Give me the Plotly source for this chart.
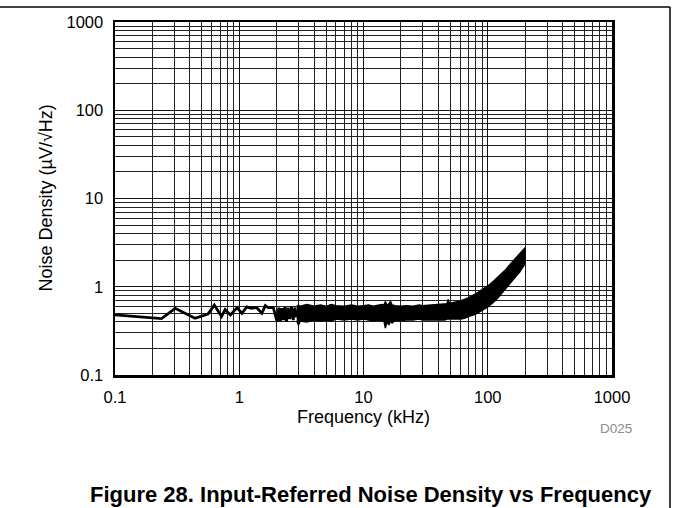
import plotly.graph_objects as go

# ---- data (frequency in kHz, noise density in uV/rtHz) ----
line_freq = [0.1, 0.15, 0.237, 0.305, 0.44, 0.56, 0.63, 0.72, 0.77, 0.85, 0.96,
             1.05, 1.15, 1.25, 1.38, 1.52, 1.62, 1.71, 1.88, 2.02, 2.08, 2.14,
             2.2, 2.26, 2.33, 2.4, 2.47, 2.55, 2.63, 2.72, 2.8, 2.9]
line_noise = [0.48, 0.455, 0.436, 0.57, 0.44, 0.49, 0.62, 0.46, 0.55, 0.48, 0.58,
              0.50, 0.59, 0.57, 0.58, 0.50, 0.61, 0.58, 0.58, 0.40, 0.58, 0.41,
              0.57, 0.42, 0.59, 0.40, 0.58, 0.43, 0.60, 0.42, 0.58, 0.45]

band_freq = [2.9, 3.0, 3.1, 3.5, 4.0, 4.5, 5.0, 5.5, 6.0, 7.0, 8.0, 9.0, 10, 11,
             12, 13, 14, 14.6, 15.0, 15.4, 16.0, 16.5, 17.0, 18, 20, 22, 25, 28,
             30, 35, 40, 45, 47, 48, 49, 52, 55, 60, 65, 70, 80, 90, 100, 110,
             120, 130, 140, 150, 160, 170, 180, 190, 200]
band_hi = [0.60, 0.62, 0.60, 0.63, 0.60, 0.62, 0.60, 0.63, 0.61, 0.60, 0.62, 0.60,
           0.61, 0.62, 0.60, 0.62, 0.63, 0.62, 0.68, 0.62, 0.64, 0.68, 0.62, 0.61,
           0.60, 0.61, 0.60, 0.62, 0.61, 0.62, 0.63, 0.64, 0.64, 0.72, 0.65, 0.66,
           0.67, 0.69, 0.72, 0.75, 0.83, 0.92, 1.02, 1.14, 1.27, 1.42, 1.57, 1.77,
           1.97, 2.17, 2.37, 2.57, 2.77]
band_lo = [0.41, 0.37, 0.41, 0.40, 0.42, 0.41, 0.42, 0.41, 0.43, 0.42, 0.43, 0.42,
           0.43, 0.42, 0.41, 0.42, 0.41, 0.41, 0.34, 0.40, 0.37, 0.41, 0.39, 0.42,
           0.41, 0.42, 0.42, 0.43, 0.42, 0.42, 0.42, 0.42, 0.43, 0.43, 0.43, 0.43,
           0.43, 0.43, 0.44, 0.46, 0.49, 0.54, 0.59, 0.66, 0.74, 0.83, 0.94, 1.06,
           1.20, 1.33, 1.46, 1.63, 1.83]

x_tick_vals = [0.1, 1, 10, 100, 1000]
x_tick_text = ["0.1", "1", "10", "100", "1000"]
y_tick_vals = [0.1, 1, 10, 100, 1000]
y_tick_text = ["0.1", "1", "10", "100", "1000"]

FONT = "Arial, 'Liberation Sans', sans-serif"

fig = go.Figure()

fig.add_trace(go.Scatter(
    x=line_freq, y=line_noise, mode="lines",
    line=dict(color="black", width=2.8), hoverinfo="skip", showlegend=False))

fig.add_trace(go.Scatter(
    x=band_freq + band_freq[::-1], y=band_hi + band_lo[::-1],
    mode="lines", fill="toself", fillcolor="black",
    line=dict(color="black", width=1.5), hoverinfo="skip", showlegend=False))

axis_common = dict(
    type="log", range=[-1, 3], automargin=False,
    showgrid=True, gridcolor="#111", gridwidth=1,
    minor=dict(dtick="D1", showgrid=True, gridcolor="#222", gridwidth=1, ticks=""),
    showline=True, linecolor="black", linewidth=2.5, mirror=True,
    ticks="", zeroline=False,
    tickfont=dict(family=FONT, size=16.5, color="black"),
)

fig.update_xaxes(**axis_common, tickvals=x_tick_vals, ticktext=x_tick_text,
                 ticklabelstandoff=6)
fig.update_yaxes(**axis_common, tickvals=y_tick_vals, ticktext=y_tick_text,
                 ticklabelstandoff=6)

PW, PH, L, T = 497, 353, 115, 22
def px(x):
    return (x - L) / PW
def py(y):
    return (T + PH - y) / PH

fig.update_layout(
    width=673, height=508,
    margin=dict(l=L, r=673 - L - PW, t=T, b=508 - T - PH, autoexpand=False),
    paper_bgcolor="white", plot_bgcolor="white",
    font=dict(family=FONT, color="black"),
    shapes=[
        dict(type="line", xref="paper", yref="paper", x0=px(0), x1=px(670),
             y0=py(7), y1=py(7), line=dict(color="black", width=1.5)),
        dict(type="line", xref="paper", yref="paper", x0=px(670), x1=px(670),
             y0=py(7), y1=py(510), line=dict(color="black", width=1.5)),
    ],
    annotations=[
        dict(text="Frequency (kHz)", xref="paper", yref="paper", x=0.5, y=py(417),
             showarrow=False, font=dict(size=18, family=FONT), yanchor="middle"),
        dict(text="Noise Density (µV/√Hz)", xref="paper", yref="paper",
             x=px(45), y=0.5, textangle=-90, showarrow=False,
             font=dict(size=18, family=FONT), xanchor="center", yanchor="middle"),
        dict(text="D025", xref="paper", yref="paper", x=px(634), y=py(428),
             xanchor="right", yanchor="middle", showarrow=False,
             font=dict(size=13.5, family=FONT, color="#8c8c8c")),
        dict(text="<b>Figure 28. Input-Referred Noise Density vs Frequency</b>",
             xref="paper", yref="paper", x=px(371), y=py(494), xanchor="center",
             yanchor="middle", showarrow=False,
             font=dict(size=22, family=FONT, color="black")),
    ],
)

fig.write_html("out.html",
               config={"displayModeBar": False, "staticPlot": True},
               post_script="document.body.style.margin='0';"
                           "document.body.style.overflow='hidden';")
